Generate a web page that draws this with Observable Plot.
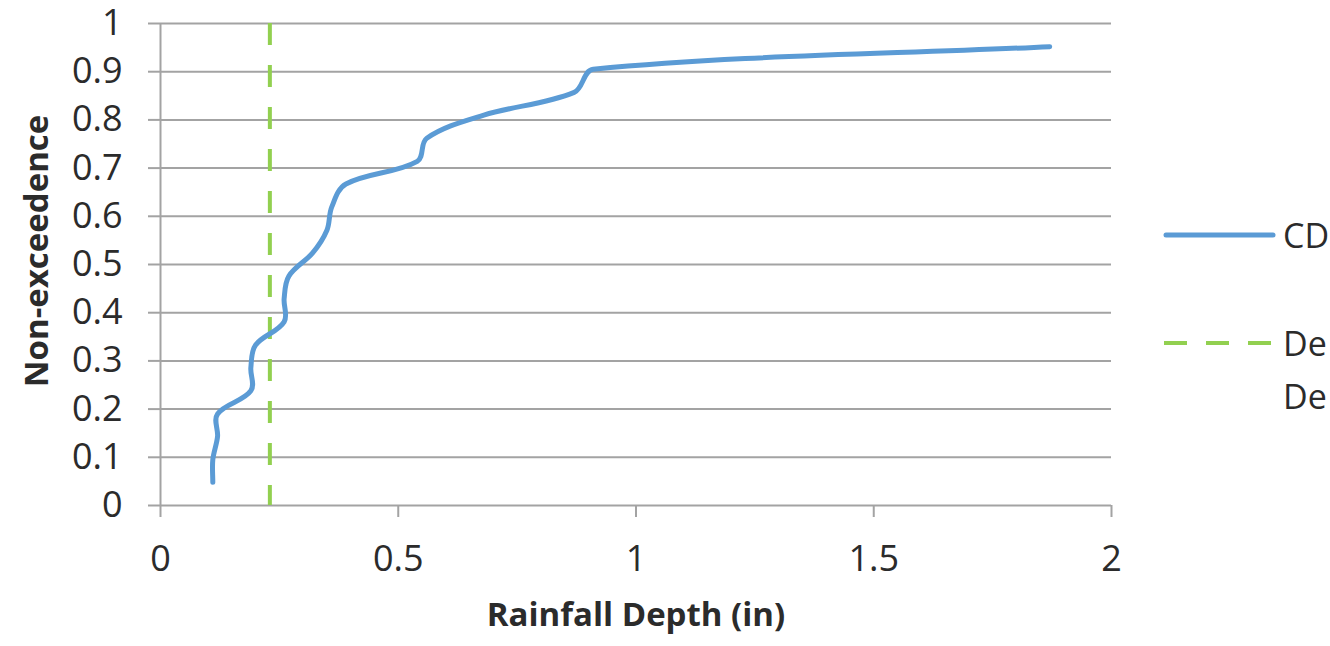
<!DOCTYPE html>
<html>
<head>
<meta charset="utf-8">
<script src="https://cdn.jsdelivr.net/npm/d3@7"></script>
<script src="https://cdn.jsdelivr.net/npm/@observablehq/plot@0.6"></script>
<style>
  html, body { margin: 0; padding: 0; background: #fff; overflow: hidden; }
  #wrap { position: relative; width: 1330px; height: 646px; font-family: "Open Sans", sans-serif; }
  #legend { position: absolute; left: 0; top: 0; }
</style>
</head>
<body>
<div id="wrap"></div>
<script>
// Data
const nonExceedence = [0.048, 0.095, 0.143, 0.190, 0.238, 0.286, 0.333, 0.381, 0.429, 0.476, 0.524, 0.571, 0.619, 0.667, 0.714, 0.762, 0.810, 0.857, 0.905, 0.952];
const rainfallDepth = [0.11, 0.11, 0.12, 0.12, 0.19, 0.19, 0.20, 0.26, 0.26, 0.27, 0.32, 0.35, 0.36, 0.39, 0.54, 0.56, 0.68, 0.87, 0.91, 1.87];
const designDepth = [0.23];
const xTicks = [0, 0.5, 1, 1.5, 2];
const yTicks = [0, 0.1, 0.2, 0.3, 0.4, 0.5, 0.6, 0.7, 0.8, 0.9, 1];
const legendLabels = ["CD", "De", "De"];
const xTitle = "Rainfall Depth (in)";
const yTitle = "Non-exceedence";

const blue = "#5B9BD5";
const green = "#92D050";
const grid = "#a3a3a3";
const ink = "#2b2b2b";

const cdf = nonExceedence.map((p, i) => ({x: rainfallDepth[i], y: p}));
const fmt = d => String(+d.toFixed(1));

// Spreadsheet-style smoothed line: tangent along neighbours, handles scaled to segment length
function smoothLine(context) {
  let pts;
  return {
    areaStart() {}, areaEnd() {},
    lineStart() { pts = []; },
    point(x, y) { pts.push([+x, +y]); },
    lineEnd() {
      const n = pts.length;
      if (!n) return;
      context.moveTo(pts[0][0], pts[0][1]);
      if (n < 3) { for (let i = 1; i < n; i++) context.lineTo(pts[i][0], pts[i][1]); return; }
      const tan = pts.map((p, i) => {
        const a = pts[Math.max(0, i - 1)], b = pts[Math.min(n - 1, i + 1)];
        const dx = b[0] - a[0], dy = b[1] - a[1], l = Math.hypot(dx, dy) || 1;
        return [dx / l, dy / l];
      });
      for (let i = 0; i < n - 1; i++) {
        const p = pts[i], q = pts[i + 1];
        const d = Math.hypot(q[0] - p[0], q[1] - p[1]) / 3;
        context.bezierCurveTo(
          p[0] + tan[i][0] * d, p[1] + tan[i][1] * d,
          q[0] - tan[i + 1][0] * d, q[1] - tan[i + 1][1] * d,
          q[0], q[1]);
      }
    }
  };
}

const chart = Plot.plot({
  width: 1330,
  height: 646,
  marginLeft: 160,
  marginRight: 219,
  marginTop: 23,
  marginBottom: 141,
  style: {fontFamily: "'Open Sans', sans-serif", color: ink, background: "#fff", overflow: "visible"},
  x: {domain: [0, 2]},
  y: {domain: [0, 1]},
  marks: [
    Plot.gridY(yTicks, {stroke: grid, strokeOpacity: 1, strokeWidth: 2}),
    Plot.ruleX([0], {stroke: grid, strokeWidth: 2}),
    Plot.axisY(yTicks, {tickSize: 12, tickPadding: 26, tickFormat: fmt, fontSize: 36, stroke: grid, strokeWidth: 2, color: ink, label: null}),
    Plot.axisX(xTicks, {tickSize: 12, tickPadding: 28, tickFormat: fmt, fontSize: 36, stroke: grid, strokeWidth: 2, color: ink, label: null}),
    Plot.ruleX(designDepth, {x: d => d, y1: 1, y2: 0, stroke: green, strokeWidth: 4, strokeDasharray: "22,20"}),
    Plot.line(cdf, {x: "x", y: "y", stroke: blue, strokeWidth: 5, curve: smoothLine, strokeLinecap: "round", strokeLinejoin: "round"}),
    Plot.text([xTitle], {text: d => d, frameAnchor: "bottom", dy: 120, fontSize: 33, fontWeight: "bold", fill: ink})
  ]
});

const wrap = document.getElementById("wrap");
wrap.appendChild(chart);

// Overlay: y-axis title and legend
const ns = "http://www.w3.org/2000/svg";
const leg = document.createElementNS(ns, "svg");
leg.setAttribute("id", "legend");
leg.setAttribute("width", 1330);
leg.setAttribute("height", 646);
leg.style.fontFamily = "'Open Sans', sans-serif";
function el(tag, attrs, text) {
  const e = document.createElementNS(ns, tag);
  for (const k in attrs) e.setAttribute(k, attrs[k]);
  if (text != null) e.textContent = text;
  leg.appendChild(e);
  return e;
}
el("text", {transform: "translate(35,251) rotate(-90)", "text-anchor": "middle", "dominant-baseline": "central", "font-size": 33, "font-weight": "bold", fill: ink}, yTitle);
el("line", {x1: 1166, x2: 1273, y1: 235, y2: 235, stroke: blue, "stroke-width": 5, "stroke-linecap": "round"});
el("line", {x1: 1164, x2: 1275, y1: 343, y2: 343, stroke: green, "stroke-width": 4, "stroke-dasharray": "23,19"});
const ly = [235, 343, 396];
legendLabels.forEach((t, i) => {
  el("text", {x: 1283, y: ly[i], "font-size": 34, fill: ink, "dominant-baseline": "central"}, t);
});
wrap.appendChild(leg);
</script>
</body>
</html>
